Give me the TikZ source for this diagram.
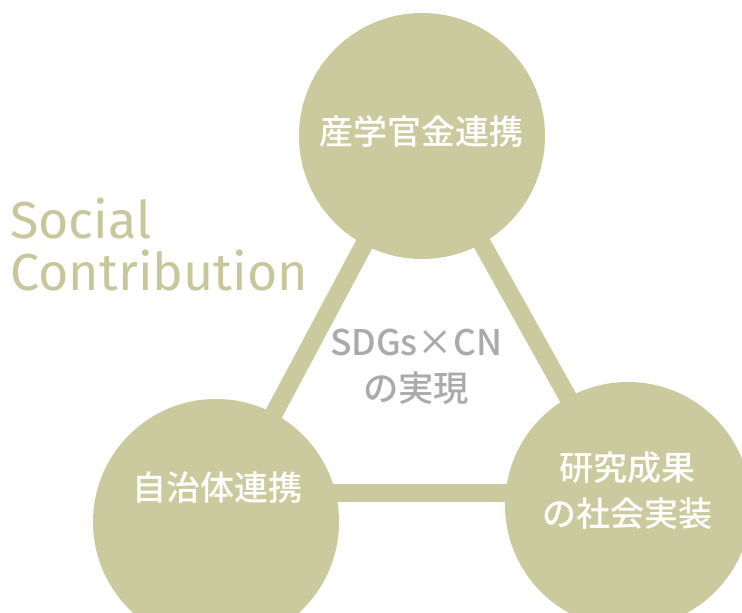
\documentclass[tikz,border=0pt]{standalone}
\usepackage{fontspec}
\newfontfamily\jpfont{Noto Sans CJK JP Medium}
\newfontfamily\socfont{Fira Sans}
\definecolor{olive}{RGB}{203,202,158}
\definecolor{olivetext}{RGB}{200,199,156}
\definecolor{midgray}{RGB}{170,170,170}
\begin{document}
\begin{tikzpicture}[x=0.75pt,y=-0.75pt,
  bubble/.style={circle,fill=olive,draw=none,minimum size=246*0.75pt,inner sep=0pt},
  link/.style={draw=olive,line width=18*0.75pt},
  intext/.style={text=white,font=\jpfont\fontsize{25.5pt}{34.5pt}\selectfont,align=center,inner sep=0pt},
  centertext/.style={text=midgray,font=\jpfont\fontsize{26.5pt}{34pt}\selectfont,align=center,inner sep=0pt},
  soctext/.style={text=olivetext,font=\socfont\fontsize{39pt}{38.5pt}\selectfont,align=left,inner sep=0pt,anchor=north west}]
\useasboundingbox (0,0) rectangle (742,613);
\fill[white] (0,0) rectangle (742,613);
% circle centres
\coordinate (Tc) at (422,136);
\coordinate (Lc) at (216,522);
\coordinate (Rc) at (628,505);
\coordinate (H) at (0,493);
% connectors (behind circles)
\draw[link] (Tc) -- (Lc);
\draw[link] (Tc) -- (Rc);
\draw[link] (Lc |- H) -- (Rc |- H);
% circles
\node[bubble] (T) at (Tc) {};
\node[bubble] (L) at (Lc) {};
\node[bubble] (R) at (Rc) {};
% labels
\node[intext] (tT) at (421,132) {産学官金連携};
\node[intext] (tL) at (217,488) {自治体連携};
\node[intext] (tR) at (627,491) {研究成果\\の社会実装};
\node[centertext] (mid) at (416,367) {SDGs×CN\\の実現};
\node[soctext] (soc) at (10,198) {Social\\Contribution};
\end{tikzpicture}
\end{document}
